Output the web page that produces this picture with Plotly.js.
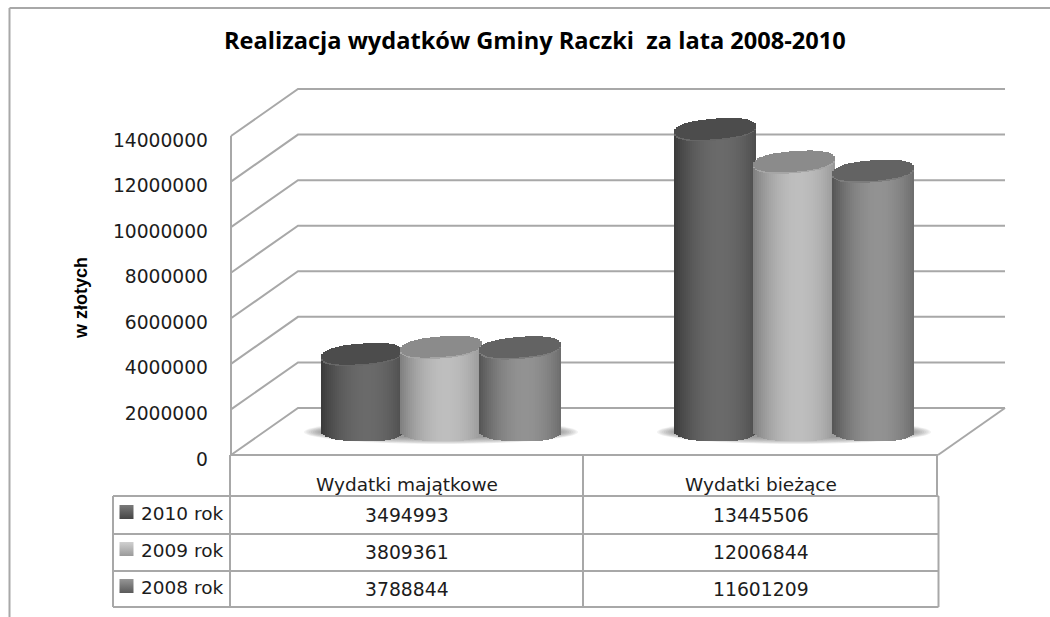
<!DOCTYPE html>
<html>
<head>
<meta charset="utf-8">
<script src="https://cdn.plot.ly/plotly-3.0.1.min.js"></script>
<style>html,body{margin:0;padding:0;background:#fff}#chart{width:1050px;height:617px}</style>
</head>
<body>
<div id="chart"></div>
<script>
const categories = ['Wydatki majątkowe', 'Wydatki bieżące'];
const seriesNames = ['2010 rok', '2009 rok', '2008 rok'];
const values2010 = [3494993, 13445506];
const values2009 = [3809361, 12006844];
const values2008 = [3788844, 11601209];
const tickValues = [0, 2000000, 4000000, 6000000, 8000000, 10000000, 12000000, 14000000];
const titleText = 'Realizacja wydatków Gminy Raczki  za lata 2008-2010';
const yTitleText = 'w złotych';

const W = 1050, H = 617;
const X = p => p / W, Y = p => 1 - p / H;
const grey = '#a8a8a8';
const font = 'DejaVu Sans, sans-serif';

// main axis: 0 at pixel 455, 14M at pixel 136
const wallScale = 14000000 / (455 - 136);
const yRange = [(455 - H) * wallScale, 455 * wallScale];
// cylinders stand deeper in the floor: own axis
const barScale = 1e6 / 22.6;
const y2Range = [(433.5 - H) * barScale, 433.5 * barScale];
// x axis: one unit = one category; category 0 centred on pixel 441
const catW = 353, cx0 = 441;
const xRange = [-cx0 / catW, (W - cx0) / catW];
const xPx = p => (p - cx0) / catW;

const series = [
  {vals: values2010, off: -79, edge: 58, peak: 106, cap: '#4c4c4c', rim: '#666666'},
  {vals: values2009, off: 0, edge: 126, peak: 190, cap: '#8b8b8b', rim: '#a6a6a6'},
  {vals: values2008, off: 79, edge: 84, peak: 146, cap: '#636363', rim: '#7c7c7c'}
];

const N = 41, halfW = 41, ellB = 11, topSkew = 3, botSkew = 0.5, ex = 2.4, footLift = 2.5;
const traces = series.map((s, si) => {
  const x = [], y = [], base = [], color = [];
  s.vals.forEach((v, c) => {
    const push = (t, lo, hi, col) => {
      x.push(c + (s.off + t * halfW) / catW);
      base.push(lo);
      y.push(hi - lo);
      color.push(col);
    };
    for (let i = 0; i < N; i++) {
      const t = (i + 0.5) / N * 2 - 1;
      const dy = ellB * Math.pow(1 - Math.pow(Math.abs(t), ex), 1 / ex);
      const shade = Math.max(0, 1 - Math.pow((t - 0.12) / 1.12, 2));
      const g = Math.round(s.edge + (s.peak - s.edge) * shade);
      const bot = (-dy * 0.95 - botSkew * t + footLift) * barScale;
      const frontEdge = v + (-dy + topSkew * t) * barScale;
      const backEdge = v + (dy + topSkew * t) * barScale;
      const rimTop = Math.min(frontEdge + 1.5 * barScale, backEdge);
      push(t, bot, frontEdge, `rgb(${g},${g},${g})`);
      push(t, frontEdge, rimTop, s.rim);
      push(t, rimTop, backEdge, s.cap);
    }
  });
  return {
    type: 'bar', name: seriesNames[si], x, y, base,
    width: (2 * halfW / N + 0.4) / catW,
    marker: {color, line: {width: 0}},
    xaxis: 'x', yaxis: 'y2', hoverinfo: 'skip', showlegend: false
  };
});

// legend keys in the data table
const rowCentres = [512, 549, 586];
const keyColors = [['#7a7a7a', '#454545'], ['#d0d0d0', '#9a9a9a'], ['#969696', '#5a5a5a']];
seriesNames.forEach((n, i) => {
  traces.push({
    type: 'scatter', mode: 'markers', x: [xPx(126.5)],
    y: [(455 - rowCentres[i]) * wallScale],
    marker: {symbol: 'square', size: 14, color: keyColors[i][0],
      gradient: {type: 'vertical', color: keyColors[i][1]}, line: {width: 0}},
    xaxis: 'x', yaxis: 'y', hoverinfo: 'skip', showlegend: false
  });
});

const shapes = [];
const pline = (x0, y0, x1, y1, w) => shapes.push({type: 'line', layer: 'below', xref: 'paper', yref: 'paper',
  x0: X(x0), y0: Y(y0), x1: X(x1), y1: Y(y1), line: {color: grey, width: w || 2}});

// outer chart frame
pline(9.5, 8, W, 8);
pline(9.5, 8, 9.5, H);

// walls: gridlines from tick values
const depth = 47 * wallScale, fx0 = 231, dxDepth = 67, bx1 = 1005;
tickValues.forEach(t => {
  shapes.push({type: 'path', layer: 'below', xref: 'paper', yref: 'y',
    path: `M ${X(fx0)} ${t} L ${X(fx0 + dxDepth)} ${t + depth} L ${X(bx1)} ${t + depth}`,
    line: {color: grey, width: 2}, fillcolor: 'rgba(0,0,0,0)'});
});
shapes.push({type: 'line', layer: 'below', xref: 'paper', yref: 'y', x0: X(fx0), x1: X(fx0),
  y0: 0, y1: tickValues[tickValues.length - 1], line: {color: grey, width: 2}});
// floor right side
shapes.push({type: 'line', layer: 'below', xref: 'paper', yref: 'y', x0: X(938), x1: X(bx1),
  y0: 0, y1: depth, line: {color: grey, width: 2}});

// soft floor shadows
categories.forEach((c, i) => {
  for (let k = 0; k < 10; k++) {
    const rx = 137 - k * 2.2, ry = 12 - k * 0.7;
    shapes.push({type: 'circle', layer: 'below', xref: 'x', yref: 'y2',
      x0: i - rx / catW, x1: i + rx / catW,
      y0: (1.5 - ry) * barScale, y1: (1.5 + ry) * barScale,
      fillcolor: 'rgba(110,110,110,0.1)', line: {width: 0}});
  }
});

// data table
pline(230, 455, 938, 455);
pline(230, 455, 230, 607);
pline(583, 455, 583, 607);
pline(937, 455, 937, 496);
pline(938.5, 496, 938.5, 607);
pline(113, 496, 938.5, 496);
pline(113, 534, 938.5, 534);
pline(113, 571, 938.5, 571);
pline(113, 607, 938.5, 607);
pline(113, 496, 113, 607);

const annotations = [];
const txt = (text, px, py, size) => annotations.push({
  text, x: X(px), y: Y(py), xref: 'paper', yref: 'paper', showarrow: false,
  xanchor: 'center', yanchor: 'middle', font: {family: font, size, color: '#1c1c1c'}
});

annotations.push({text: '<b>' + titleText + '</b>', x: X(535), y: Y(40), xref: 'paper', yref: 'paper', showarrow: false,
  xanchor: 'center', yanchor: 'middle', font: {family: 'Open Sans, sans-serif', size: 23.6, color: '#000'}});
annotations.push({text: '<b>' + yTitleText + '</b>', x: X(81), y: Y(298), xref: 'paper', yref: 'paper', showarrow: false,
  textangle: -90, xanchor: 'center', yanchor: 'middle', font: {family: 'Liberation Sans Narrow, Liberation Sans, sans-serif', size: 18, color: '#000'}});

const catCentres = [407, 761];
categories.forEach((c, i) => txt(c, catCentres[i], 484, 18.5));
[values2010, values2009, values2008].forEach((vals, r) => {
  txt(seriesNames[r], 181.5, rowCentres[r] + 1, 18.5);
  vals.forEach((v, i) => txt(String(v), catCentres[i], rowCentres[r] + 3, 18.8));
});

const layout = {
  width: W, height: H,
  margin: {l: 0, r: 0, t: 0, b: 0, pad: 0},
  paper_bgcolor: '#fff', plot_bgcolor: 'rgba(0,0,0,0)',
  barmode: 'overlay', bargap: 0,
  showlegend: false,
  xaxis: {range: xRange, visible: false, fixedrange: true, domain: [0, 1]},
  yaxis: {
    range: yRange, anchor: 'free', position: X(208), side: 'left',
    tickmode: 'array', tickvals: tickValues, ticktext: tickValues.map(String),
    showgrid: false, zeroline: false, showline: false, ticks: '', fixedrange: true,
    ticklabelshift: 4,
    tickfont: {family: font, size: 18.7, color: '#1c1c1c'}
  },
  yaxis2: {range: y2Range, overlaying: 'y', visible: false, fixedrange: true},
  shapes, annotations
};
Plotly.newPlot('chart', traces, layout, {displayModeBar: false, staticPlot: true});
</script>
</body>
</html>
